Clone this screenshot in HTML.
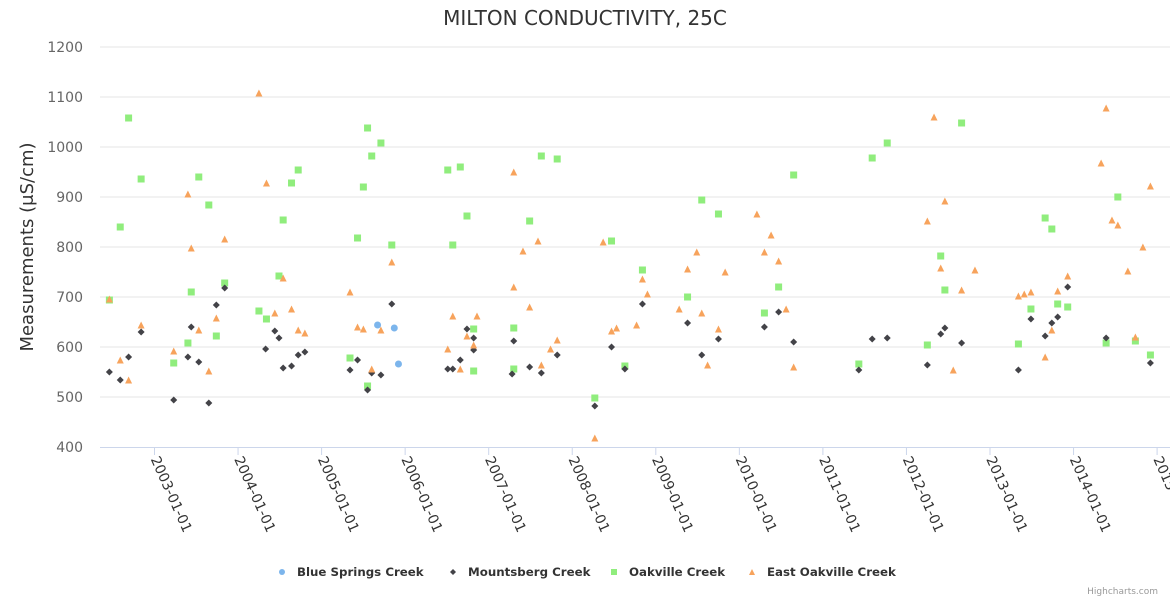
<!DOCTYPE html>
<html><head><meta charset="utf-8"><style>
body{margin:0;background:#fff;}
svg{display:block;font-family:"DejaVu Sans","Liberation Sans",sans-serif;}
</style></head><body>
<svg id="chart" width="1170" height="600">
<rect width="1170" height="600" fill="#fff"/>
<text x="585" y="25" text-anchor="middle" font-size="20" fill="#333">MILTON CONDUCTIVITY, 25C</text>
<text transform="translate(33,247) rotate(-90)" text-anchor="middle" font-size="18" fill="#333">Measurements (μS/cm)</text>
<g id="grid"></g><g id="xaxis"></g><g id="marks"></g>
<g id="legend" font-size="11.8" font-weight="bold" fill="#333"></g>
<text x="1158" y="594" text-anchor="end" font-size="9" fill="#999">Highcharts.com</text>
</svg>
<script>
const yTicks=[400,500,600,700,800,900,1000,1100,1200];
const xTickYears=[2003,2004,2005,2006,2007,2008,2009,2010,2011,2012,2013,2014,2015];
const seriesNames=["Blue Springs Creek","Mountsberg Creek","Oakville Creek","East Oakville Creek"];
const blueX=[2005.67,2005.87,2005.92];
const blueY=[644,638,566];
const mountX=[2002.46,2002.59,2002.69,2002.84,2003.23,2003.40,2003.44,2003.53,2003.65,2003.74,2003.84,2004.33,2004.44,2004.49,2004.54,2004.64,2004.72,2004.80,2005.34,2005.43,2005.55,2005.60,2005.71,2005.84,2006.51,2006.57,2006.66,2006.74,2006.82,2006.82,2007.30,2007.28,2007.49,2007.63,2007.82,2008.27,2008.47,2008.63,2008.84,2009.38,2009.55,2009.75,2010.30,2010.47,2010.65,2011.43,2011.59,2011.77,2012.25,2012.41,2012.46,2012.66,2013.34,2013.49,2013.66,2013.74,2013.81,2013.93,2014.39,2014.92];
const mountY=[550,534,580,630,494,580,640,570,488,684,718,596,632,618,558,562,584,590,554,574,514,548,544,686,556,556,574,636,618,594,612,546,560,548,584,482,600,556,686,648,584,616,640,670,610,554,616,618,564,626,638,608,554,656,622,648,660,720,618,568];
const oakX=[2002.46,2002.59,2002.69,2002.84,2003.23,2003.40,2003.44,2003.53,2003.65,2003.74,2003.84,2004.25,2004.34,2004.49,2004.54,2004.64,2004.72,2005.34,2005.43,2005.50,2005.55,2005.55,2005.60,2005.71,2005.84,2006.51,2006.57,2006.66,2006.74,2006.82,2006.82,2007.30,2007.30,2007.49,2007.63,2007.82,2008.27,2008.47,2008.63,2008.84,2009.38,2009.55,2009.75,2010.30,2010.47,2010.65,2011.43,2011.59,2011.77,2012.25,2012.41,2012.46,2012.66,2013.34,2013.49,2013.66,2013.74,2013.81,2013.93,2014.39,2014.53,2014.74,2014.92];
const oakY=[694,840,1058,936,568,608,710,940,884,622,728,672,656,742,854,928,954,578,818,920,522,1038,982,1008,804,954,804,960,862,636,552,638,556,852,982,976,498,812,562,754,700,894,866,668,720,944,566,978,1008,604,782,714,1048,606,676,858,836,686,680,608,900,612,584];
const eastX=[2002.46,2002.59,2002.69,2002.84,2003.23,2003.40,2003.44,2003.53,2003.65,2003.74,2003.84,2004.25,2004.34,2004.44,2004.54,2004.64,2004.72,2004.80,2005.34,2005.43,2005.50,2005.60,2005.71,2005.84,2006.51,2006.57,2006.66,2006.74,2006.82,2006.86,2007.30,2007.30,2007.41,2007.59,2007.49,2007.63,2007.74,2007.82,2008.27,2008.37,2008.47,2008.53,2008.77,2008.84,2008.90,2009.28,2009.38,2009.49,2009.55,2009.62,2009.75,2009.83,2010.21,2010.30,2010.38,2010.47,2010.56,2010.65,2012.25,2012.33,2012.41,2012.46,2012.56,2012.66,2012.82,2013.34,2013.41,2013.49,2013.66,2013.74,2013.81,2013.93,2014.33,2014.39,2014.46,2014.53,2014.65,2014.74,2014.83,2014.92];
const eastY=[696,574,534,644,592,906,798,634,552,658,816,1108,928,668,738,676,634,628,710,640,636,556,634,770,596,662,556,622,604,662,720,950,792,812,680,564,596,614,418,810,632,638,644,736,706,676,756,790,668,564,636,750,866,790,824,772,676,560,852,1060,758,892,554,714,754,702,706,710,580,634,712,742,968,1078,854,844,752,620,800,922];

const NS="http://www.w3.org/2000/svg";
const L=100,R=1170,T=47,B=447;
const x0=2003, px0=154.5, pxPerYear=83.55;
function xs(v){return px0+(v-x0)*pxPerYear;}
function ys(v){return B-(v-400)/800*(B-T);}
function mk(tag,attrs,parent){const e=document.createElementNS(NS,tag);for(const k in attrs)e.setAttribute(k,attrs[k]);parent.appendChild(e);return e;}
const grid=document.getElementById('grid');
yTicks.forEach(t=>{
  if(t>400){const g=mk('line',{x1:L,x2:R,y1:ys(t),y2:ys(t),stroke:'#e6e6e6','stroke-width':1},grid);
  
  }
  const lb=mk('text',{x:83,y:ys(t)+5,'text-anchor':'end','font-size':14,fill:'#666'},grid);
  lb.textContent=t;
  
  
});
const xa=document.getElementById('xaxis');
const axl=mk('line',{x1:L,x2:R,y1:B+0.5,y2:B+0.5,stroke:'#ccd6eb','stroke-width':1},xa);


xTickYears.forEach(yr=>{
  const x=xs(yr);
  const tk=mk('line',{x1:x,x2:x,y1:B,y2:B+8,stroke:'#ccd6eb'},xa);
  
  
  const lb=mk('text',{transform:`translate(${x-4},${B+12}) rotate(66)`,'font-size':14,fill:'#333'},xa);
  lb.textContent=yr+'-01-01';
  
  
});
const marks=document.getElementById('marks');
function marker(type,cx,cy,parent,s){
  s=s||3.5;
  if(type===0)return mk('circle',{cx:cx,cy:cy,r:s,fill:'#7cb5ec'},parent);
  if(type===1)return mk('path',{d:`M${cx},${cy-s}L${cx+s},${cy}L${cx},${cy+s}L${cx-s},${cy}Z`,fill:'#434348'},parent);
  if(type===2)return mk('rect',{x:cx-s,y:cy-s,width:2*s,height:2*s,fill:'#90ed7d'},parent);
  return mk('path',{d:`M${cx},${cy-s}L${cx+s},${cy+s}L${cx-s},${cy+s}Z`,fill:'#f7a35c'},parent);
}
const allX=[blueX,mountX,oakX,eastX], allY=[blueY,mountY,oakY,eastY];
const ptNames=['blue-springs-point','mountsberg-point','oakville-point','east-oakville-point'];
[2,1,0,3].forEach(s=>{
  allX[s].forEach((xv,i)=>{
    const m=marker(s,xs(xv),ys(allY[s][i]),marks);
    
    
  });
});
const lg=document.getElementById('legend');
const lgX=[282,453,614,752];
seriesNames.forEach((n,i)=>{
  const g=mk('g',{},lg);
  
  
  marker(i,lgX[i],572,g,3);
  const t=mk('text',{x:lgX[i]+15,y:576},g);
  t.textContent=n;
});
</script>
</body></html>
